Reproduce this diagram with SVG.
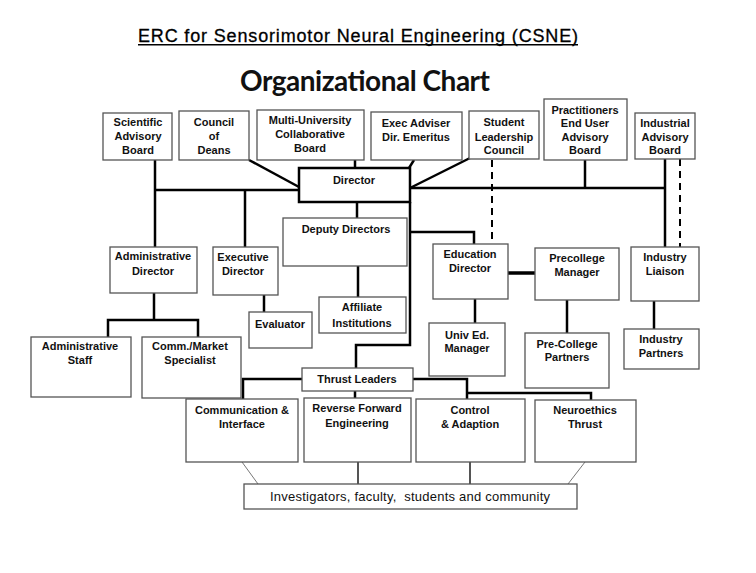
<svg xmlns="http://www.w3.org/2000/svg" width="756" height="573" viewBox="0 0 756 573">
<style>
.box{fill:#fff;stroke:#555;stroke-width:1.3}
.dir{fill:#fff;stroke:#000;stroke-width:2.5}
.t{font-family:"Liberation Sans",Arial,sans-serif;font-size:11px;font-weight:bold;text-anchor:middle;fill:#111}
.c{stroke:#000;stroke-width:2.5;fill:none}
.d{stroke:#000;stroke-width:2;fill:none;stroke-dasharray:7 5}
.g{stroke:#777;stroke-width:1;fill:none}
.gv{stroke:#555;stroke-width:2;fill:none}
</style>
<rect width="756" height="573" fill="#fff"/>
<g id="title">
<text x="358" y="42" font-family="Liberation Sans,Arial,sans-serif" font-size="18" text-anchor="middle" textLength="440" fill="#000" stroke="#000" stroke-width="0.3">ERC for Sensorimotor Neural Engineering (CSNE)</text>
<line x1="138" y1="44.8" x2="578" y2="44.8" stroke="#000" stroke-width="1.5"/>
<text x="365" y="91" font-family="Lato,'Open Sans',sans-serif" font-size="28" font-weight="bold" text-anchor="middle" textLength="250" fill="#111">Organizational Chart</text>
</g>
<g id="connectors">
<polyline class="c" points="155,160 155,247"/>
<polyline class="c" points="155,190 299,190"/>
<polyline class="c" points="245,190 245,247"/>
<line class="c" x1="249" y1="160" x2="299" y2="187"/>
<line class="c" x1="355" y1="160" x2="355" y2="168"/>
<line class="c" x1="414" y1="160" x2="409" y2="168"/>
<line class="c" x1="470" y1="158" x2="410" y2="188"/>
<polyline class="c" points="410,188 665,188"/>
<line class="c" x1="585" y1="160" x2="585" y2="188"/>
<line class="c" x1="665" y1="159" x2="665" y2="247"/>
<line class="d" x1="492" y1="160" x2="492" y2="244"/>
<line class="d" x1="680" y1="159" x2="680" y2="247"/>
<line class="c" x1="357" y1="202" x2="357" y2="218"/>
<polyline class="c" points="410,202 410,345 356,345 356,368"/>
<polyline class="c" points="410,232 474,232 474,244"/>
<line x1="508" y1="273" x2="535" y2="273" stroke="#000" stroke-width="3.5"/>
<line class="c" x1="475" y1="299" x2="475" y2="323"/>
<line class="c" x1="567" y1="300" x2="567" y2="333"/>
<line class="c" x1="654" y1="301" x2="654" y2="329"/>
<line class="c" x1="264" y1="295" x2="264" y2="312"/>
<line class="c" x1="358" y1="266" x2="358" y2="297"/>
<polyline class="c" points="154,293 154,320"/>
<polyline class="c" points="108,337 108,320 198,320 198,337"/>
<polyline class="c" points="302,379 243,379 243,399"/>
<polyline class="c" points="413,379 467,379 467,399"/>
<polyline class="c" points="467,393 591,393 591,400"/>
<line class="c" x1="355" y1="391" x2="355" y2="398"/>
<line class="g" x1="242" y1="462" x2="258" y2="484"/>
<line class="gv" x1="358" y1="462" x2="358" y2="484"/>
<line class="gv" x1="470" y1="462" x2="470" y2="484"/>
<line class="g" x1="585" y1="462" x2="568" y2="484"/>
</g>
<g id="scientific-advisory-board"><rect class="box" x="103" y="113" width="69" height="47"/><text class="t" x="138" y="126">Scientific</text><text class="t" x="138" y="140">Advisory</text><text class="t" x="138" y="154">Board</text></g>
<g id="council-of-deans"><rect class="box" x="179" y="111" width="70" height="49"/><text class="t" x="214" y="126">Council</text><text class="t" x="214" y="140">of</text><text class="t" x="214" y="154">Deans</text></g>
<g id="multi-university-board"><rect class="box" x="257" y="110" width="107" height="50"/><text class="t" x="310" y="124">Multi-University</text><text class="t" x="310" y="138">Collaborative</text><text class="t" x="310" y="152">Board</text></g>
<g id="exec-adviser"><rect class="box" x="371" y="112" width="91" height="48"/><text class="t" x="416" y="127">Exec Adviser</text><text class="t" x="416" y="141">Dir. Emeritus</text></g>
<g id="student-leadership-council"><rect class="box" x="469" y="111" width="70" height="48"/><text class="t" x="504" y="126">Student</text><text class="t" x="504" y="141">Leadership</text><text class="t" x="504" y="154">Council</text></g>
<g id="practitioners-board"><rect class="box" x="544" y="99" width="83" height="61"/><text class="t" x="585" y="114">Practitioners</text><text class="t" x="585" y="127">End User</text><text class="t" x="585" y="141">Advisory</text><text class="t" x="585" y="154">Board</text></g>
<g id="industrial-advisory-board"><rect class="box" x="635" y="113" width="60" height="46"/><text class="t" x="665" y="127">Industrial</text><text class="t" x="665" y="141">Advisory</text><text class="t" x="665" y="154">Board</text></g>
<g id="director"><rect class="dir" x="299" y="168" width="111" height="34"/><text class="t" x="354" y="184" font-size="13.5">Director</text></g>
<g id="deputy-directors"><rect class="box" x="283" y="218" width="124" height="48"/><text class="t" x="346" y="233">Deputy Directors</text></g>
<g id="administrative-director"><rect class="box" x="110" y="247" width="87" height="46"/><text class="t" x="153" y="260">Administrative</text><text class="t" x="153" y="275">Director</text></g>
<g id="executive-director"><rect class="box" x="213" y="247" width="65" height="48"/><text class="t" x="243" y="261">Executive</text><text class="t" x="243" y="275">Director</text></g>
<g id="evaluator"><rect class="box" x="249" y="312" width="63" height="36"/><text class="t" x="280" y="328">Evaluator</text></g>
<g id="affiliate-institutions"><rect class="box" x="319" y="297" width="87" height="36"/><text class="t" x="362" y="311" font-size="11.5">Affiliate</text><text class="t" x="362" y="327" font-size="11.5">Institutions</text></g>
<g id="education-director"><rect class="box" x="433" y="244" width="75" height="55"/><text class="t" x="470" y="258">Education</text><text class="t" x="470" y="272">Director</text></g>
<g id="precollege-manager"><rect class="box" x="535" y="248" width="84" height="52"/><text class="t" x="577" y="262">Precollege</text><text class="t" x="577" y="276">Manager</text></g>
<g id="industry-liaison"><rect class="box" x="631" y="247" width="68" height="54"/><text class="t" x="665" y="261">Industry</text><text class="t" x="665" y="275">Liaison</text></g>
<g id="univ-ed-manager"><rect class="box" x="429" y="323" width="76" height="53"/><text class="t" x="467" y="339">Univ Ed.</text><text class="t" x="467" y="352">Manager</text></g>
<g id="pre-college-partners"><rect class="box" x="525" y="333" width="84" height="55"/><text class="t" x="567" y="348">Pre-College</text><text class="t" x="567" y="361">Partners</text></g>
<g id="industry-partners"><rect class="box" x="624" y="329" width="75" height="40"/><text class="t" x="661" y="343">Industry</text><text class="t" x="661" y="357">Partners</text></g>
<g id="administrative-staff"><rect class="box" x="31" y="337" width="100" height="60"/><text class="t" x="80" y="350">Administrative</text><text class="t" x="80" y="364">Staff</text></g>
<g id="comm-market-specialist"><rect class="box" x="142" y="337" width="99" height="61"/><text class="t" x="190" y="350">Comm./Market</text><text class="t" x="190" y="364">Specialist</text></g>
<g id="thrust-leaders"><rect class="box" x="302" y="368" width="111" height="23"/><text class="t" x="357" y="383">Thrust Leaders</text></g>
<g id="communication-interface"><rect class="box" x="186" y="399" width="112" height="63"/><text class="t" x="242" y="414">Communication &amp;</text><text class="t" x="242" y="428">Interface</text></g>
<g id="reverse-forward-engineering"><rect class="box" x="304" y="398" width="107" height="64"/><text class="t" x="357" y="412">Reverse Forward</text><text class="t" x="357" y="427">Engineering</text></g>
<g id="control-adaption"><rect class="box" x="416" y="399" width="109" height="63"/><text class="t" x="470" y="414">Control</text><text class="t" x="470" y="428">&amp; Adaption</text></g>
<g id="neuroethics-thrust"><rect class="box" x="535" y="400" width="101" height="62"/><text class="t" x="585" y="414">Neuroethics</text><text class="t" x="585" y="428">Thrust</text></g>
<g id="investigators"><rect class="box" x="244" y="484" width="333" height="25"/><text x="410" y="501" font-family="Liberation Sans,Arial,sans-serif" font-size="13" text-anchor="middle" textLength="280" fill="#111" xml:space="preserve">Investigators, faculty,  students and community</text></g>
</svg>
